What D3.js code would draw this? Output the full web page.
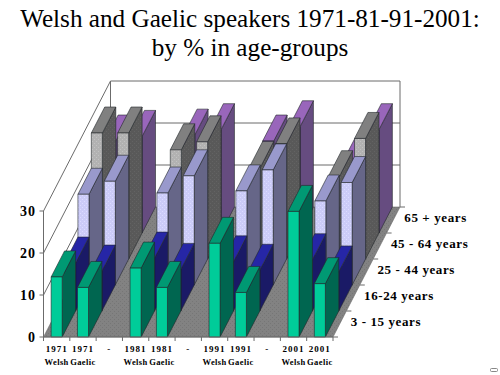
<!DOCTYPE html>
<html>
<head>
<meta charset="utf-8">
<script src="https://cdnjs.cloudflare.com/ajax/libs/d3/7.8.5/d3.min.js"></script>
<style>
	html, body { margin: 0; padding: 0; background: #fff; }
	svg { display: block; }
	text { font-family: "Liberation Serif", serif; fill: #000; }
</style>
</head>
<body>
<div id="chart"></div>
<script>
const titleLines = ['Welsh and Gaelic speakers 1971-81-91-2001:', 'by % in age-groups'];

const yearLabels = ['1971', '1971', '-', '1981', '1981', '-', '1991', '1991', '-', '2001', '2001'];
const langLabels = ['Welsh', 'Gaelic', '', 'Welsh', 'Gaelic', '', 'Welsh', 'Gaelic', '', 'Welsh', 'Gaelic'];
const ageGroups = ['3 - 15 years', '16-24 years', '25 - 44 years', '45 - 64 years', '65 + years'];
const valueTicks = [0, 10, 20, 30];

// null = the empty spacer columns
const age3to15 = [14.3, 11.8, null, 16.4, 11.8, null, 22.3, 10.6, null, 29.9, 12.7];
const age16to24 = [11.4, 9.5, null, 12.6, 9.9, null, 11.7, 9.7, null, 12.2, 9.3];
const age25to44 = [21.6, 24.7, null, 21.9, 26, null, 22.4, 27.4, null, 20, 24.4];
const age45to64 = [30, 30, null, 26, 27.9, null, 21.8, 27.4, null, 19.6, 28.7];
const age65plus = [21.9, 23, null, 23.3, 24.6, null, 21.9, 25.3, null, 16.4, 24.6];

const seriesValues = [age3to15, age16to24, age25to44, age45to64, age65plus];
const seriesColors = [
	{ front: '#00cc99', top: '#009973', side: '#006650' },
	{ front: '#333399', top: '#2626a6', side: '#1a1a66' },
	{ front: '#ccccff', top: '#9999cc', side: '#666688' },
	{ front: '#b2b2b2', top: '#808080', side: '#595959' },
	{ front: '#9966cc', top: '#9966bb', side: '#664c80' }
];

const width = 500, height = 375;

const svg = d3.select('#chart').append('svg')
	.attr('width', width)
	.attr('height', height);

// stipple like the old dithered export
const defs = svg.append('defs');
const stipple = (id, base, dot) => {
	const p = defs.append('pattern')
		.attr('id', id)
		.attr('width', 4).attr('height', 4)
		.attr('patternUnits', 'userSpaceOnUse');
	p.append('rect').attr('width', 4).attr('height', 4).attr('fill', base);
	p.append('rect').attr('x', 0).attr('y', 1).attr('width', 1).attr('height', 1).attr('fill', dot);
	p.append('rect').attr('x', 2).attr('y', 3).attr('width', 1).attr('height', 1).attr('fill', dot);
};
stipple('floor-dots', '#828282', '#767676');
stipple('lilac-dots', '#ccccf8', '#dcdcff');
stipple('grey-dots', '#b2b2b2', '#c2c2c2');
stipple('side-dots', '#595959', '#636363');

// scales: category across, value up, series into the page
const x = d3.scaleBand()
	.domain(d3.range(yearLabels.length))
	.range([43.5, 333])
	.paddingInner(0.58)
	.paddingOuter(0.29);
const band = d3.scaleBand()
	.domain(d3.range(yearLabels.length))
	.range([43.5, 333]);
const y = d3.scaleLinear().domain([0, 30]).range([337, 211]);
const depthX = d3.scaleLinear().domain([0, ageGroups.length]).range([0, 67]);
const depthY = d3.scaleLinear().domain([0, ageGroups.length]).range([0, -130]);

const project = (px, value, depth) => [px + depthX(depth), y(value) + depthY(depth)];
const poly = (pts) => pts.map(p => p.join(',')).join(' ');

const frontLeft = band.range()[0], frontRight = band.range()[1];
const topValue = valueTicks[valueTicks.length - 1];
const lastDepth = ageGroups.length;
const wallStroke = '#6b6b6b';

// walls
const walls = svg.append('g').attr('fill', 'none').attr('stroke', wallStroke).attr('stroke-width', 1);
walls.selectAll('.grid').data(valueTicks.slice(1)).enter().append('polyline')
	.attr('class', 'grid')
	.attr('points', d => poly([
		project(frontLeft, d, 0),
		project(frontLeft, d, lastDepth),
		project(frontRight, d, lastDepth)
	]));
walls.append('polyline')
	.attr('points', poly([
		project(frontLeft, 0, 0),
		project(frontLeft, topValue, 0)
	]));
walls.append('polyline')
	.attr('points', poly([
		project(frontLeft, 0, lastDepth),
		project(frontLeft, topValue, lastDepth)
	]));
walls.append('polyline')
	.attr('points', poly([
		project(frontRight, 0, lastDepth),
		project(frontRight, topValue, lastDepth)
	]));

// floor
svg.append('polygon')
	.attr('points', poly([
		project(frontLeft, 0, 0),
		project(frontRight, 0, 0),
		project(frontRight, 0, lastDepth),
		project(frontLeft, 0, lastDepth)
	]))
	.attr('fill', 'url(#floor-dots)')
	.attr('stroke', wallStroke)
	.attr('stroke-width', 0.6);

// bars, rear series first so nearer ones paint over them
const faceFill = (s, face) => {
	if (face === 'front' && s === 2) return 'url(#lilac-dots)';
	if (face === 'front' && s === 3) return 'url(#grey-dots)';
	if (face === 'side' && s === 3) return 'url(#side-dots)';
	return seriesColors[s][face];
};

d3.range(seriesValues.length).reverse().forEach(s => {
	const rows = seriesValues[s]
		.map((v, i) => ({ i: i, v: v }))
		.filter(d => d.v !== null);
	const bars = svg.append('g')
		.attr('class', 'series')
		.attr('stroke', '#22262a')
		.attr('stroke-width', 0.6)
		.attr('stroke-linejoin', 'round')
		.selectAll('g').data(rows).enter().append('g');

	bars.append('polygon')
		.attr('fill', faceFill(s, 'side'))
		.attr('points', d => {
			const r = x(d.i) + x.bandwidth();
			return poly([project(r, 0, s), project(r, d.v, s), project(r, d.v, s + 1), project(r, 0, s + 1)]);
		});
	bars.append('polygon')
		.attr('fill', faceFill(s, 'top'))
		.attr('points', d => {
			const l = x(d.i), r = l + x.bandwidth();
			return poly([project(l, d.v, s), project(r, d.v, s), project(r, d.v, s + 1), project(l, d.v, s + 1)]);
		});
	bars.append('polygon')
		.attr('fill', faceFill(s, 'front'))
		.attr('points', d => {
			const l = x(d.i), r = l + x.bandwidth();
			return poly([project(l, 0, s), project(r, 0, s), project(r, d.v, s), project(l, d.v, s)]);
		});
});

// value axis
const axisG = svg.append('g').attr('stroke', wallStroke).attr('stroke-width', 1);
axisG.append('line')
	.attr('x1', frontLeft).attr('x2', frontRight)
	.attr('y1', y(0)).attr('y2', y(0));
axisG.selectAll('.ytick').data(valueTicks).enter().append('line')
	.attr('class', 'ytick')
	.attr('x1', frontLeft - 4).attr('x2', frontLeft)
	.attr('y1', d => y(d)).attr('y2', d => y(d));
axisG.selectAll('.xtick').data(d3.range(yearLabels.length + 1)).enter().append('line')
	.attr('class', 'xtick')
	.attr('x1', d => frontLeft + band.step() * d)
	.attr('x2', d => frontLeft + band.step() * d)
	.attr('y1', y(0)).attr('y2', y(0) + 4);
axisG.selectAll('.ztick').data(d3.range(lastDepth + 1)).enter().append('line')
	.attr('class', 'ztick')
	.attr('x1', d => project(frontRight, 0, d)[0])
	.attr('x2', d => project(frontRight, 0, d)[0] + 5)
	.attr('y1', d => project(frontRight, 0, d)[1])
	.attr('y2', d => project(frontRight, 0, d)[1]);

svg.selectAll('.ylabel').data(valueTicks).enter().append('text')
	.attr('class', 'ylabel')
	.attr('x', 36)
	.attr('y', d => y(d) + 4.5)
	.attr('text-anchor', 'end')
	.attr('font-size', 14)
	.attr('font-weight', 'bold')
	.attr('letter-spacing', 1)
	.text(d => d);

svg.selectAll('.year').data(yearLabels).enter().append('text')
	.attr('class', 'year')
	.attr('x', (d, i) => band(i) + band.step() / 2)
	.attr('y', 352)
	.attr('text-anchor', 'middle')
	.attr('font-size', 9)
	.attr('font-weight', 'bold')
	.attr('letter-spacing', 1)
	.text(d => d);

svg.selectAll('.lang').data(langLabels).enter().append('text')
	.attr('class', 'lang')
	.attr('x', (d, i) => band(i) + band.step() / 2)
	.attr('y', 365)
	.attr('text-anchor', 'middle')
	.attr('font-size', 8.5)
	.attr('font-weight', 'bold')
	.attr('letter-spacing', 0.4)
	.text(d => d);

svg.selectAll('.age').data(ageGroups).enter().append('text')
	.attr('class', 'age')
	.attr('x', (d, i) => project(frontRight, 0, i + 0.5)[0] + 11)
	.attr('y', (d, i) => project(frontRight, 0, i + 0.5)[1] + 2)
	.attr('font-size', 13)
	.attr('font-weight', 'bold')
	.attr('letter-spacing', 0.6)
	.text(d => d);

svg.selectAll('.title').data(titleLines).enter().append('text')
	.attr('class', 'title')
	.attr('x', 250)
	.attr('y', (d, i) => 27 + i * 29)
	.attr('text-anchor', 'middle')
	.attr('font-size', 25.2)
	.text(d => d);

// small stray box in the corner of the source image
svg.append('rect')
	.attr('x', 490.5).attr('y', 368.5)
	.attr('width', 7).attr('height', 3)
	.attr('rx', 1)
	.attr('fill', '#fff')
	.attr('stroke', '#888');
</script>
</body>
</html>
